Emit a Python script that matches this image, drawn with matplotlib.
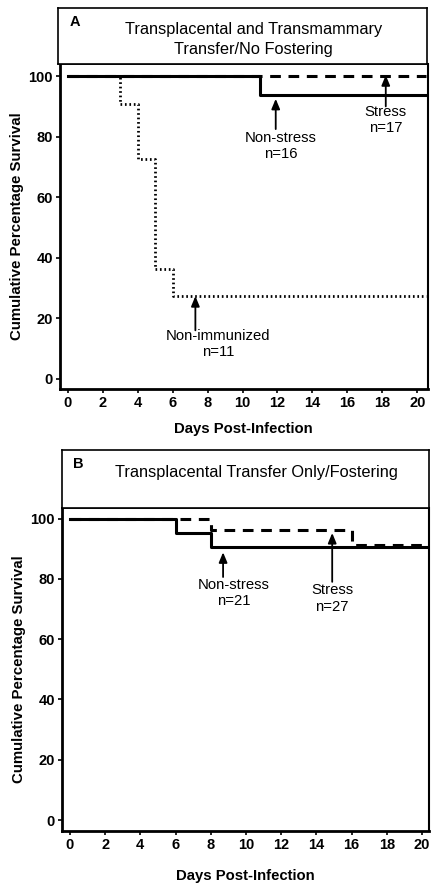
import matplotlib.pyplot as plt
import numpy as np

plt.rcParams['font.family'] = ['Liberation Sans', 'DejaVu Sans']

# Panel A: survival steps (day, % survival)
a_stress_days = [0, 20.5]
a_stress_surv = [100, 100]
a_nonstress_days = [0, 11, 20.5]
a_nonstress_surv = [100, 93.75, 93.75]
a_nonimm_days = [0, 3, 4, 5, 6, 20.5]
a_nonimm_surv = [100, 90.9, 72.7, 36.4, 27.3, 27.3]

# Panel B
b_nonstress_days = [0, 6, 8, 20.4]
b_nonstress_surv = [100, 95.2, 90.5, 90.5]
b_stress_days = [0, 8, 16, 20.4]
b_stress_surv = [100, 96.3, 91.2, 91.2]

xticks = list(range(0, 21, 2))
yticks = [0, 20, 40, 60, 80, 100]

fig = plt.figure(figsize=(4.4, 8.89), dpi=100)


def setup_axes(ax, xlim, ylim, xpad):
    ax.set_xlim(*xlim)
    ax.set_ylim(*ylim)
    ax.set_xticks(xticks)
    ax.set_yticks(yticks)
    for lab in ax.get_xticklabels() + ax.get_yticklabels():
        lab.set_fontweight('bold')
        lab.set_fontsize(10.5)
    ax.tick_params(direction='out', length=3, width=1.2, pad=2)
    ax.spines['left'].set_linewidth(2)
    ax.spines['bottom'].set_linewidth(2)
    ax.spines['right'].set_linewidth(1.5)
    ax.spines['top'].set_linewidth(1.2)
    ax.set_ylabel('Cumulative Percentage Survival', fontweight='bold', fontsize=10.8, labelpad=3)
    ax.set_xlabel('Days Post-Infection', fontweight='bold', fontsize=10.7, labelpad=xpad)


def title_box(rect, letter, text, ty):
    tb = fig.add_axes(rect)
    tb.set_xticks([])
    tb.set_yticks([])
    for s in tb.spines.values():
        s.set_linewidth(1.2)
    tb.text(0.03, 0.88, letter, fontweight='bold', fontsize=10.5, va='top', transform=tb.transAxes)
    tb.text(0.53, ty, text, ha='center', va='center', fontsize=11.8, linespacing=1.45,
            transform=tb.transAxes)


arrow = dict(arrowstyle='-|>,head_length=0.6,head_width=0.25', color='black', lw=1.3,
             shrinkA=0, shrinkB=0)
afs = 10.7

# ---- Panel A ----
axA = fig.add_axes([0.136, 0.5624, 0.836, 0.3656])
axA.step(a_stress_days, a_stress_surv, where='post', color='black', lw=2.2,
         linestyle=(0, (3.5, 2.5)))
axA.step(a_nonstress_days, a_nonstress_surv, where='post', color='black', lw=2.2)
axA.step(a_nonimm_days, a_nonimm_surv, where='post', color='black', lw=2.0,
         linestyle=(0, (0.6, 1.0)))
setup_axes(axA, (-0.46, 20.6), (-3.4, 104), 9)

axA.annotate('', xy=(11.9, 92.5), xytext=(11.9, 82.5), arrowprops=arrow)
axA.text(12.2, 82, 'Non-stress\nn=16', ha='center', va='top', fontsize=afs, linespacing=1.2)
axA.annotate('', xy=(18.2, 100.3), xytext=(18.2, 90), arrowprops=arrow)
axA.text(18.2, 90.5, 'Stress\nn=17', ha='center', va='top', fontsize=afs, linespacing=1.2)
axA.annotate('', xy=(7.3, 27.3), xytext=(7.3, 16), arrowprops=arrow)
axA.text(8.6, 16.5, 'Non-immunized\nn=11', ha='center', va='top', fontsize=afs, linespacing=1.2)

title_box([0.132, 0.928, 0.839, 0.063], 'A',
          'Transplacental and Transmammary\nTransfer/No Fostering', 0.44)

# ---- Panel B ----
axB = fig.add_axes([0.141, 0.0652, 0.834, 0.3634])
axB.step(b_stress_days, b_stress_surv, where='post', color='black', lw=2.2,
         linestyle=(0, (3.5, 2.5)))
axB.step(b_nonstress_days, b_nonstress_surv, where='post', color='black', lw=2.2)
setup_axes(axB, (-0.45, 20.4), (-3.65, 103.5), 12)

axB.annotate('', xy=(8.7, 88.8), xytext=(8.7, 80.6), arrowprops=arrow)
axB.text(9.3, 80.3, 'Non-stress\nn=21', ha='center', va='top', fontsize=afs, linespacing=1.2)
axB.annotate('', xy=(14.9, 95.2), xytext=(14.9, 79), arrowprops=arrow)
axB.text(14.9, 78.5, 'Stress\nn=27', ha='center', va='top', fontsize=afs, linespacing=1.2)

title_box([0.141, 0.4286, 0.834, 0.0652], 'B', 'Transplacental Transfer Only/Fostering', 0.62)

fig.savefig('out.png', dpi=100)
